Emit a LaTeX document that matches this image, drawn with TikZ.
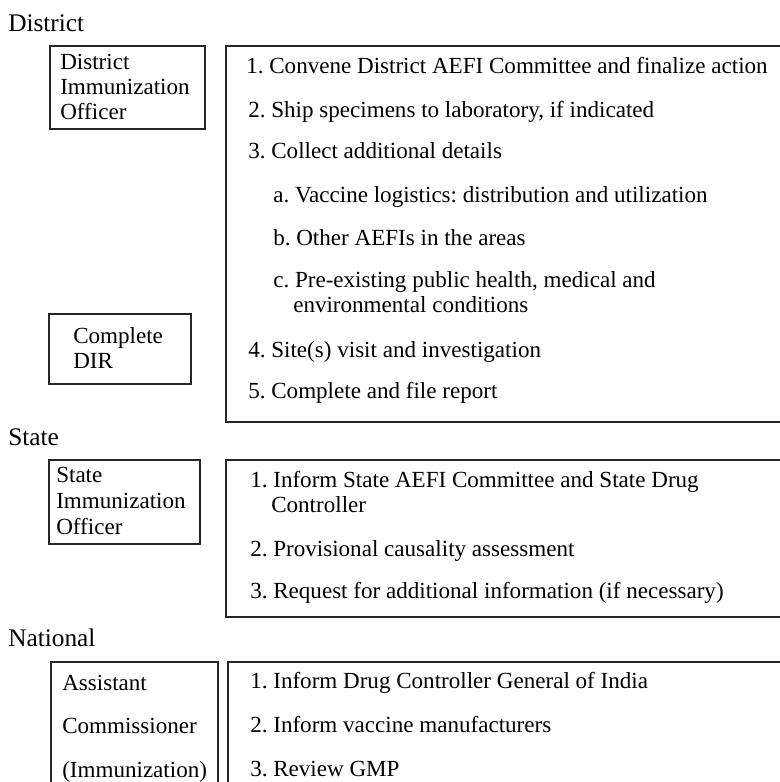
\documentclass[tikz,border=0pt]{standalone}
\usepackage{fontspec}
\setmainfont{Liberation Serif}
\usepackage{tikz}
\usetikzlibrary{positioning}

\tikzset{
    panel/.style={draw=black!85, line width=0.9pt},
    line/.style={anchor=base west, inner sep=0pt},
    level/.style={line, font=\fontsize{19}{22}\selectfont},
}

\begin{document}
\frenchspacing
\begin{tikzpicture}[x=0.75pt, y=-0.75pt, font=\fontsize{17.3}{20}\selectfont]
    \useasboundingbox (0,0) rectangle (780,782);
    \clip (0,0) rectangle (780,782);

    % District level
    \node[level] (district) at (8,31) {District};
    \draw[panel] (50,46) rectangle (205,129);
    \node[line] (dioA) at (60,69) {District};
    \node[line] (dioB) at (60,94) {Immunization};
    \node[line] (dioC) at (60,119) {Officer};
    \draw[panel] (49,314) rectangle (191,384);
    \node[line] (dirA) at (73,343) {Complete};
    \node[line] (dirB) at (73,368) {DIR};

    \draw[panel] (226,46) rectangle (800,422);
    \node[line] (dOne) at (246,73) {1. Convene District AEFI Committee and finalize action};
    \node[line] (dTwo) at (248,117) {2. Ship specimens to laboratory, if indicated};
    \node[line] (dThree) at (248,158) {3. Collect additional details};
    \node[line] (dA) at (273,202) {a. Vaccine logistics: distribution and utilization};
    \node[line] (dB) at (273,245) {b. Other AEFIs in the areas};
    \node[line] (dC) at (273,287) {c. Pre-existing public health, medical and};
    \node[line] (dCc) at (293,312) {environmental conditions};
    \node[line] (dFour) at (248,357) {4. Site(s) visit and investigation};
    \node[line] (dFive) at (248,398) {5. Complete and file report};

    % State level
    \node[level] (state) at (8,445) {State};
    \draw[panel] (49,460) rectangle (200,544);
    \node[line] (sioA) at (56,482) {State};
    \node[line] (sioB) at (56,508) {Immunization};
    \node[line] (sioC) at (56,534) {Officer};

    \draw[panel] (226,460) rectangle (800,617);
    \node[line] (sOne) at (250,487) {1. Inform State AEFI Committee and State Drug};
    \node[line] (sOnec) at (271,512) {Controller};
    \node[line] (sTwo) at (250,556) {2. Provisional causality assessment};
    \node[line] (sThree) at (250,598) {3. Request for additional information (if necessary)};

    % National level
    \node[level] (national) at (8,646) {National};
    \draw[panel] (51,662) rectangle (218,800);
    \node[line] (acA) at (62,690) {Assistant};
    \node[line] (acB) at (62,733) {Commissioner};
    \node[line] (acC) at (62,777) {(Immunization)};

    \draw[panel] (228,662) rectangle (800,800);
    \node[line] (nOne) at (250,688) {1. Inform Drug Controller General of India};
    \node[line] (nTwo) at (250,732) {2. Inform vaccine manufacturers};
    \node[line] (nThree) at (250,776) {3. Review GMP};
\end{tikzpicture}
\end{document}
